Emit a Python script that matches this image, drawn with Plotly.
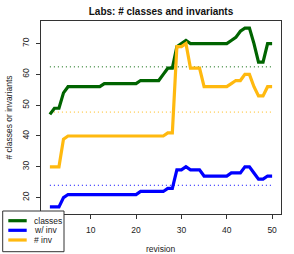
import plotly.graph_objects as go

revision = list(range(1, 51))
classes = [47, 49, 49, 54, 56, 56, 56, 56, 56, 56, 56, 56,
           57, 57, 57, 57, 57, 57, 57, 57,
           58, 58, 58, 58, 58, 60, 62, 62, 69, 70, 71,
           70, 70, 70, 70, 70, 70, 70, 70, 70,
           71, 72, 74, 75, 75, 70, 64, 64, 70, 70]
with_inv = [17, 17, 17, 20, 21, 21, 21, 21, 21, 21, 21, 21, 21, 21, 21, 21, 21, 21, 21, 21,
            22, 22, 22, 22, 22, 22, 23, 23, 29, 29, 30, 29, 29, 29,
            27, 27, 27, 27, 27, 27, 28, 28, 28, 30, 30, 28, 26, 26, 27, 27]
num_inv = [30, 30, 30, 39] + [40] * 22 + [41, 41, 69, 69, 70, 62, 62, 62,
           56, 56, 56, 56, 56, 56, 57, 58, 58, 60, 60, 56, 53, 53, 56, 56]

series_names = ["classes", "w/ inv", "# inv"]
series_values = [classes, with_inv, num_inv]
series_colors = ["#006400", "#0000FF", "#FFB90F"]

# tick at 0 sits under the legend box in the original, so it is omitted
x_ticks = [10, 20, 30, 40, 50]
y_ticks = [20, 30, 40, 50, 60, 70]

FONT = "Liberation Sans, Arial, Helvetica, sans-serif"
W, H = 294, 254
ML, MR, MT, MB = 41, 13, 21, 40
PW, PH = W - ML - MR, H - MT - MB


def px_to_paper_x(px):
    return (px - ML) / PW


def px_to_paper_y(py):
    return (H - MB - py) / PH


fig = go.Figure()

# mean dotted lines (drawn first, under the series)
for name, vals, col in zip(series_names, series_values, series_colors):
    m = sum(vals) / len(vals)
    fig.add_trace(go.Scatter(
        x=[revision[0], revision[-1]], y=[m, m], mode="lines",
        line=dict(color=col, width=1, dash="1px,3px"),
        showlegend=False, hoverinfo="skip"))

for name, vals, col in zip(series_names, series_values, series_colors):
    fig.add_trace(go.Scatter(
        x=revision, y=vals, mode="lines", name=name,
        line=dict(color=col, width=3.2), showlegend=False))

all_vals = [v for s in series_values for v in s]
ymin, ymax = min(all_vals), max(all_vals)
yext = 0.04 * (ymax - ymin)
xmin, xmax = min(revision), max(revision)
xext = 0.04 * (xmax - xmin)

axis_common = dict(
    showgrid=False, zeroline=False, showline=True, mirror=True,
    linecolor="#333333", linewidth=1, ticks="outside", ticklen=4,
    tickwidth=1, tickcolor="#333333", automargin=False,
    tickfont=dict(family=FONT, size=8.5, color="#222222"),
)

fig.update_xaxes(range=[xmin - xext, xmax + xext], tickvals=x_ticks,
                 ticklabelstandoff=4, **axis_common)
fig.update_yaxes(range=[ymin - yext, ymax + yext], tickvals=y_ticks,
                 tickangle=-90, ticklabelstandoff=4, **axis_common)

# axis titles placed as in the R original
annotations = [
    dict(text="revision", xref="paper", yref="paper",
         x=0.5, y=px_to_paper_y(249), xanchor="center", yanchor="middle",
         showarrow=False, font=dict(family=FONT, size=8.5, color="#222222")),
    dict(text="# classes or invariants", xref="paper", yref="paper",
         x=px_to_paper_x(8), y=0.5, xanchor="center", yanchor="middle",
         textangle=-90, showarrow=False,
         font=dict(family=FONT, size=8.5, color="#222222")),
]

# manual legend (R-style compact box)
shapes = [dict(type="rect", xref="paper", yref="paper",
               x0=px_to_paper_x(2.7), x1=px_to_paper_x(64),
               y0=px_to_paper_y(251.7), y1=px_to_paper_y(211),
               fillcolor="white", line=dict(color="#333333", width=1),
               layer="above")]
row_py = [220.7, 230.3, 240.0]
for name, col, py in zip(series_names, series_colors, row_py):
    shapes.append(dict(type="line", xref="paper", yref="paper",
                       x0=px_to_paper_x(8.3), x1=px_to_paper_x(26.7),
                       y0=px_to_paper_y(py), y1=px_to_paper_y(py),
                       line=dict(color=col, width=3.2), layer="above"))
    annotations.append(dict(text=name, xref="paper", yref="paper",
                            x=px_to_paper_x(32.0), y=px_to_paper_y(py),
                            xanchor="left", yanchor="middle", showarrow=False,
                            font=dict(family=FONT, size=8.5, color="#222222")))

fig.update_layout(
    width=W, height=H,
    margin=dict(l=ML, r=MR, t=MT, b=MB, pad=0),
    paper_bgcolor="white", plot_bgcolor="white",
    title=dict(text="Labs: # classes and invariants", x=0.5, xref="paper",
               xanchor="center", y=1 - 11 / H, yanchor="middle",
               font=dict(family=FONT, size=10, color="#111111", weight="bold")),
    shapes=shapes, annotations=annotations, showlegend=False,
)

fig.write_html(
    "out.html",
    config={"displayModeBar": False},
    post_script="document.body.style.margin='0';document.body.style.overflow='hidden';",
)
